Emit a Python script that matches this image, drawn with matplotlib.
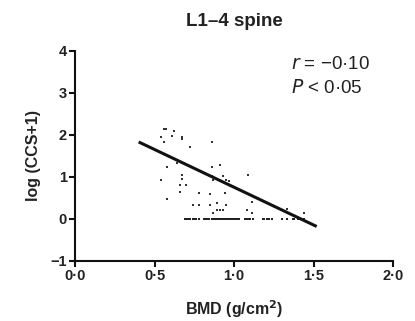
import matplotlib
matplotlib.use("Agg")
import matplotlib.pyplot as plt

plt.rcParams['font.family'] = ['Liberation Sans', 'DejaVu Sans']

# scattered points (BMD, log(CCS+1))
pts_x = [0.56, 0.57, 0.62, 0.61, 0.54, 0.56, 0.67, 0.67, 0.86, 0.72,
         0.58, 0.64, 0.54, 0.58, 0.67, 0.67, 0.66, 0.70, 0.66, 0.86,
         0.91, 0.86, 0.87, 0.93, 0.95, 0.97, 1.09, 0.78, 0.85, 0.94,
         0.74, 0.78, 0.85, 0.89, 0.95, 0.89, 0.91, 0.93, 0.87, 1.11,
         1.08, 1.11, 1.33, 1.44]
pts_y = [2.14, 2.14, 2.08, 1.98, 1.94, 1.83, 1.94, 1.90, 1.84, 1.72,
         1.23, 1.33, 0.93, 0.47, 1.05, 0.94, 0.81, 0.81, 0.63, 1.23,
         1.29, 1.02, 0.93, 1.02, 0.93, 0.89, 1.05, 0.61, 0.60, 0.61,
         0.32, 0.32, 0.32, 0.39, 0.33, 0.21, 0.21, 0.21, 0.15, 0.41,
         0.21, 0.15, 0.23, 0.14]

# points with CCS = 0
zero_x = [0.69, 0.70, 0.71, 0.72, 0.74, 0.75, 0.76, 0.78, 0.81, 0.82,
          0.83, 0.845, 0.86, 0.87, 0.88, 0.89, 0.90, 0.91, 0.92, 0.93,
          0.94, 0.95, 0.96, 0.97, 0.98, 0.99, 1.00, 1.01, 1.02, 1.03,
          1.07, 1.08, 1.09, 1.10, 1.12, 1.18, 1.19, 1.21, 1.22, 1.24,
          1.30, 1.33, 1.37, 1.38, 1.40, 1.41, 1.42, 1.44]
zero_y = [0.0] * len(zero_x)

# regression line
line_x = [0.40, 1.52]
line_y = [1.83, -0.18]

xticks = [0.0, 0.5, 1.0, 1.5, 2.0]
xticklabels = ['0·0', '0·5', '1·0', '1·5', '2·0']
yticks = [-1, 0, 1, 2, 3, 4]
yticklabels = ['\u22121', '0', '1', '2', '3', '4']

fig = plt.figure(figsize=(4.15, 3.21), dpi=100)
ax = fig.add_axes([0.181, 0.187, 0.766, 0.655])

ax.plot(pts_x, pts_y, ls='none', marker='s', ms=2.0, color='#333333', mew=0)
ax.plot(zero_x, zero_y, ls='none', marker='s', ms=2.0, color='#222222', mew=0)
ax.plot(line_x, line_y, color='#111111', lw=2.2, solid_capstyle='butt')

ax.set_xlim(0, 2.0)
ax.set_ylim(-1, 4)
ax.set_xticks(xticks)
ax.set_xticklabels(xticklabels, fontsize=10.5, fontweight='bold', color='#222222')
ax.set_yticks(yticks)
ax.set_yticklabels(yticklabels, fontsize=10.5, fontweight='bold', color='#222222')

for s in ['top', 'right']:
    ax.spines[s].set_visible(False)
for s in ['left', 'bottom']:
    ax.spines[s].set_linewidth(1.5)
    ax.spines[s].set_color('#111111')
ax.tick_params(direction='out', length=4, width=1.5, color='#111111', pad=2)

ax.set_xlabel('BMD (g/cm$^{\\mathbf{2}}$)', fontsize=11.5, fontweight='bold', color='#222222', labelpad=11)
ax.set_ylabel('log (CCS+1)', fontsize=11.5, fontweight='bold', color='#222222', labelpad=7)
ax.set_title('L1\u20134 spine', fontsize=13.5, fontweight='bold', color='#222222', pad=18)

ax.text(0.68, 0.935, '$\\it{r}$ = \u22120·10', transform=ax.transAxes, fontsize=13.5, color='#222222', ha='left', va='center')
ax.text(0.68, 0.825, '$\\it{P}$ < 0·05', transform=ax.transAxes, fontsize=13.5, color='#222222', ha='left', va='center')

fig.savefig('out.png', dpi=100, facecolor='white')
